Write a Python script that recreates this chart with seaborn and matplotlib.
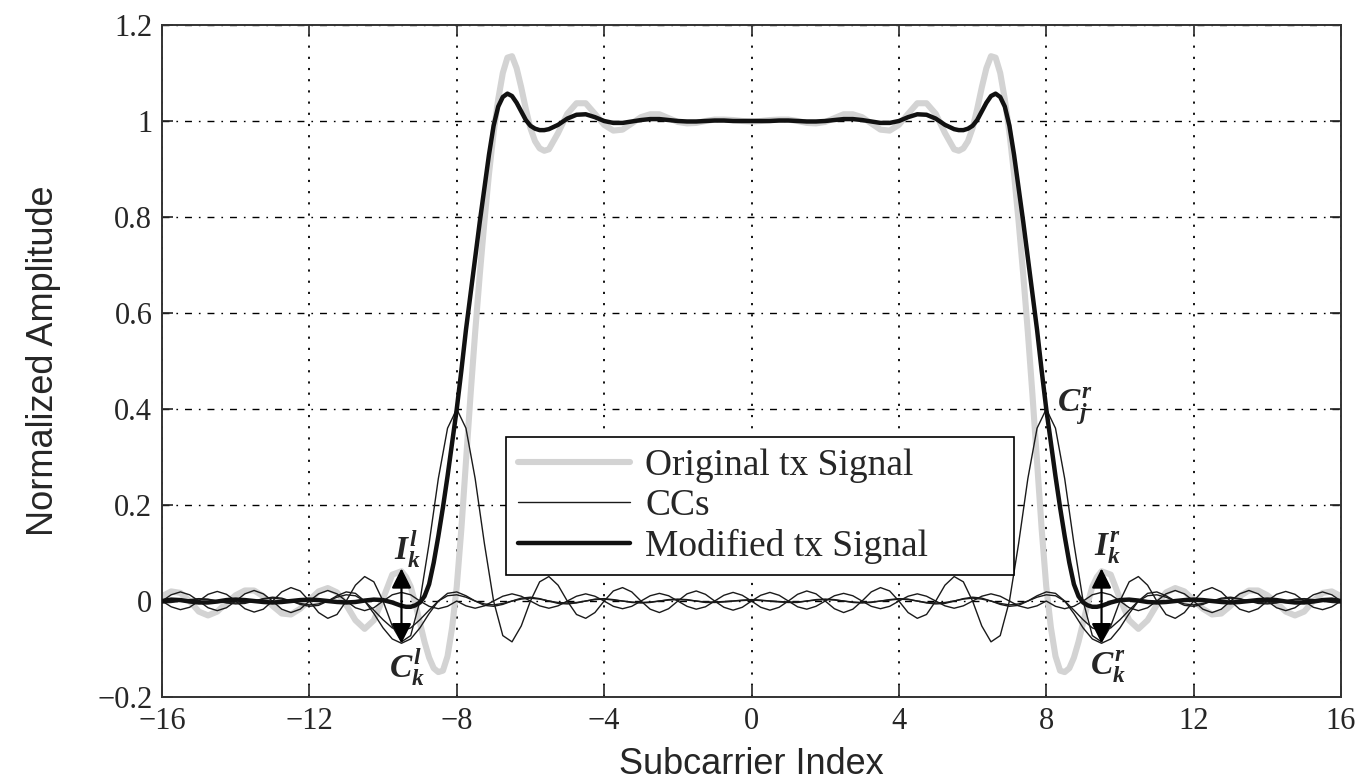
import numpy as np
import pandas as pd
import matplotlib
matplotlib.use("Agg")
import matplotlib.pyplot as plt
import seaborn as sns

# subcarrier grid (step 0.25) used by the cancellation carriers
subcarrier = np.arange(-16, 16.001, 0.25)
# denser grid around the band edges for the tx signals
left_x = np.concatenate([np.arange(-16, -9.74, 0.25), np.arange(-9.5, -5.49, 0.125),
                         np.arange(-5.25, -0.24, 0.25)])
signal_x = np.concatenate([left_x, [0.0], -left_x[::-1]])

original_tx = [
    # -16 .. -9.75
    0.010, 0.020, 0.017, 0.000, -0.022, -0.030, -0.022, -0.004,
    0.012, 0.022, 0.022, 0.010, -0.010, -0.026, -0.028, -0.016,
    0.002, 0.020, 0.027, 0.018, -0.008, -0.040, -0.058, -0.040,
    0.005, 0.055,
    # -9.5 .. -5.5 (step 0.125)
    0.062, 0.050, 0.030, -0.005, -0.045, -0.085, -0.118, -0.140,
    -0.148, -0.145, -0.115, -0.055, 0.030, 0.150, 0.290, 0.430,
    0.560, 0.680, 0.790, 0.890, 0.975, 1.045, 1.100, 1.132,
    1.135, 1.110, 1.070, 1.025, 0.985, 0.958, 0.943, 0.938,
    0.941,
    # -5.25 .. -0.25
    0.975, 1.015, 1.037, 1.037, 1.015, 0.992, 0.980, 0.982,
    0.995, 1.008, 1.014, 1.014, 1.006, 0.998, 0.995, 0.996,
    1.000, 1.003, 1.003, 1.002, 1.000,
    # 0
    0.999,
    # 0.25 .. 5.25
    1.000, 1.002, 1.003, 1.003, 1.000, 0.996, 0.995, 0.998,
    1.006, 1.014, 1.014, 1.008, 0.995, 0.982, 0.980, 0.992,
    1.015, 1.037, 1.037, 1.015, 0.975,
    # 5.5 .. 9.5 (step 0.125)
    0.941, 0.938, 0.943, 0.958, 0.985, 1.025, 1.070, 1.110,
    1.135, 1.132, 1.100, 1.045, 0.975, 0.890, 0.790, 0.680,
    0.560, 0.430, 0.290, 0.150, 0.030, -0.055, -0.115, -0.145,
    -0.148, -0.140, -0.118, -0.085, -0.045, -0.005, 0.030, 0.050,
    0.062,
    # 9.75 .. 16
    0.055, 0.005, -0.040, -0.058, -0.040, -0.008, 0.018, 0.027,
    0.020, 0.002, -0.016, -0.028, -0.026, -0.010, 0.010, 0.022,
    0.022, 0.012, -0.004, -0.022, -0.030, -0.022, 0.000, 0.017,
    0.020, 0.010,
]

modified_tx = [
    # -16 .. -9.75
    0.000, 0.003, 0.002, -0.001, -0.003, -0.003, -0.001, 0.002,
    0.003, 0.002, 0.000, -0.002, -0.003, -0.002, 0.000, 0.002,
    0.003, 0.002, 0.000, -0.002, -0.003, -0.002, 0.001, 0.003,
    0.002, -0.003,
    # -9.5 .. -5.5 (step 0.125)
    -0.010, -0.012, -0.012, -0.009, -0.003, 0.010, 0.035, 0.080,
    0.135, 0.195, 0.260, 0.330, 0.400, 0.480, 0.565, 0.640,
    0.715, 0.790, 0.860, 0.930, 0.990, 1.030, 1.050, 1.057,
    1.052, 1.038, 1.020, 1.002, 0.990, 0.984, 0.981, 0.981,
    0.983,
    # -5.25 .. -0.25
    0.992, 1.005, 1.013, 1.014, 1.008, 1.000, 0.996, 0.996,
    0.999, 1.002, 1.004, 1.004, 1.002, 1.000, 0.999, 0.999,
    1.000, 1.001, 1.001, 1.000, 1.000,
    # 0
    1.000,
    # 0.25 .. 5.25
    1.000, 1.000, 1.001, 1.001, 1.000, 0.999, 0.999, 1.000,
    1.002, 1.004, 1.004, 1.002, 0.999, 0.996, 0.996, 1.000,
    1.008, 1.014, 1.013, 1.005, 0.992,
    # 5.5 .. 9.5 (step 0.125)
    0.983, 0.981, 0.981, 0.984, 0.990, 1.002, 1.020, 1.038,
    1.052, 1.057, 1.050, 1.030, 0.990, 0.930, 0.860, 0.790,
    0.715, 0.640, 0.565, 0.480, 0.400, 0.330, 0.260, 0.195,
    0.135, 0.080, 0.035, 0.010, -0.003, -0.009, -0.012, -0.012,
    -0.010,
    # 9.75 .. 16
    -0.003, 0.002, 0.003, 0.001, -0.002, -0.003, -0.002, 0.000,
    0.002, 0.003, 0.002, 0.000, -0.002, -0.003, -0.002, 0.000,
    0.002, 0.003, 0.002, -0.001, -0.003, -0.003, -0.001, 0.002,
    0.003, 0.000,
]

# cancellation carrier at -8 (C_j^l)
cc_main_l = [
    0.000, -0.012, -0.018, -0.013, 0.000, 0.014, 0.020, 0.014,
    0.000, -0.016, -0.023, -0.017, 0.000, 0.019, 0.028, 0.021,
    0.000, -0.024, -0.036, -0.028, 0.000, 0.033, 0.051, 0.040,
    0.000, -0.052, -0.085, -0.072, 0.000, 0.120, 0.255, 0.360,
    0.400, 0.360, 0.255, 0.120, 0.000, -0.072, -0.085, -0.052,
    0.000, 0.040, 0.051, 0.033, 0.000, -0.028, -0.036, -0.024,
    0.000, 0.021, 0.028, 0.019, 0.000, -0.017, -0.024, -0.016,
    0.000, 0.015, 0.021, 0.014, 0.000, -0.013, -0.019, -0.013,
    0.000, 0.012, 0.018, 0.012, 0.000, -0.012, -0.017, -0.011,
    0.000, 0.011, 0.016, 0.011, 0.000, -0.011, -0.016, -0.011,
    0.000, 0.010, 0.015, 0.010, 0.000, -0.010, -0.015, -0.010,
    0.000, 0.010, 0.015, 0.010, 0.000, -0.010, -0.015, -0.010,
    0.000, -0.011, -0.016, -0.011, 0.000, 0.013, 0.018, 0.013,
    0.000, -0.014, -0.020, -0.014, 0.000, 0.015, 0.022, 0.015,
    0.000, -0.017, -0.024, -0.017, 0.000, 0.015, 0.022, 0.015,
    0.000, -0.014, -0.020, -0.014, 0.000, 0.013, 0.019, 0.013,
    0.000,
]

# cancellation carrier at +8 (C_j^r)
cc_main_r = [
    0.000, 0.013, 0.019, 0.013, 0.000, -0.014, -0.020, -0.014,
    0.000, 0.015, 0.022, 0.015, 0.000, -0.017, -0.024, -0.017,
    0.000, 0.015, 0.022, 0.015, 0.000, -0.014, -0.020, -0.014,
    0.000, 0.013, 0.018, 0.013, 0.000, -0.011, -0.016, -0.011,
    0.000, -0.010, -0.015, -0.010, 0.000, 0.010, 0.015, 0.010,
    0.000, -0.010, -0.015, -0.010, 0.000, 0.010, 0.015, 0.010,
    0.000, -0.011, -0.016, -0.011, 0.000, 0.011, 0.016, 0.011,
    0.000, -0.011, -0.017, -0.012, 0.000, 0.012, 0.018, 0.012,
    0.000,
    -0.013, -0.019, -0.013, 0.000, 0.014, 0.021, 0.015, 0.000,
    -0.016, -0.024, -0.017, 0.000, 0.019, 0.028, 0.021, 0.000,
    -0.024, -0.036, -0.028, 0.000, 0.033, 0.051, 0.040, 0.000,
    -0.052, -0.085, -0.072, 0.000, 0.120, 0.255, 0.360, 0.400,
    0.360, 0.255, 0.120, 0.000, -0.072, -0.085, -0.052, 0.000,
    0.040, 0.051, 0.033, 0.000, -0.028, -0.036, -0.024, 0.000,
    0.021, 0.028, 0.019, 0.000, -0.017, -0.023, -0.016, 0.000,
    0.014, 0.020, 0.014, 0.000, -0.013, -0.018, -0.012, 0.000,
]

# edge cancellation carriers around -9.5 (C_k^l), left half only (x = -16 .. 0)
cc_edge_l1 = [
    -0.004, -0.003, 0.000, 0.003, 0.005, 0.004, 0.000, -0.004,
    -0.006, -0.005, 0.000, 0.005, 0.008, 0.006, 0.000, -0.007,
    -0.011, -0.009, 0.000, 0.011, 0.019, 0.016, 0.000, -0.026,
    -0.056, -0.079, -0.088, -0.079, -0.056, -0.026, 0.000, 0.016,
    0.019, 0.011, 0.000, -0.009, -0.011, -0.007, 0.000, 0.006,
    0.008, 0.005, 0.000, -0.005, -0.006, -0.004, 0.000, 0.004,
    0.005, 0.003, 0.000, -0.003, -0.004, -0.003, 0.000, 0.003,
    0.004, 0.003, 0.000, -0.003, -0.003, -0.002, 0.000, 0.002,
    0.003,
]
cc_edge_l2 = [
    -0.003, -0.002, 0.000, 0.002, 0.004, 0.003, 0.000, -0.003,
    -0.004, -0.003, 0.000, 0.004, 0.006, 0.004, 0.000, -0.005,
    -0.008, -0.006, 0.000, 0.008, 0.013, 0.011, 0.000, -0.019,
    -0.039, -0.056, -0.062, -0.056, -0.039, -0.019, 0.000, 0.011,
    0.013, 0.008, 0.000, -0.006, -0.008, -0.005, 0.000, 0.004,
    0.006, 0.004, 0.000, -0.003, -0.004, -0.003, 0.000, 0.003,
    0.004, 0.002, 0.000, -0.002, -0.003, -0.002, 0.000, 0.002,
    0.003, 0.002, 0.000, -0.002, -0.002, -0.001, 0.000, 0.001,
    0.002,
]
# edge cancellation carriers around +9.5 (C_k^r), right half only (x = 0 .. 16)
cc_edge_r1 = [
    0.003,
    0.002, 0.000, -0.002, -0.003, -0.003, 0.000, 0.003, 0.004,
    0.003, 0.000, -0.003, -0.004, -0.003, 0.000, 0.003, 0.005,
    0.004, 0.000, -0.004, -0.006, -0.005, 0.000, 0.005, 0.008,
    0.006, 0.000, -0.007, -0.011, -0.009, 0.000, 0.011, 0.019,
    0.016, 0.000, -0.026, -0.056, -0.079, -0.088, -0.079, -0.056,
    -0.026, 0.000, 0.016, 0.019, 0.011, 0.000, -0.009, -0.011,
    -0.007, 0.000, 0.006, 0.008, 0.005, 0.000, -0.005, -0.006,
    -0.004, 0.000, 0.004, 0.005, 0.003, 0.000, -0.003, -0.004,
]
cc_edge_r2 = [
    0.002,
    0.001, 0.000, -0.001, -0.002, -0.002, 0.000, 0.002, 0.003,
    0.002, 0.000, -0.002, -0.003, -0.002, 0.000, 0.002, 0.004,
    0.003, 0.000, -0.003, -0.004, -0.003, 0.000, 0.004, 0.006,
    0.004, 0.000, -0.005, -0.008, -0.006, 0.000, 0.008, 0.013,
    0.011, 0.000, -0.019, -0.039, -0.056, -0.062, -0.056, -0.039,
    -0.019, 0.000, 0.011, 0.013, 0.008, 0.000, -0.006, -0.008,
    -0.005, 0.000, 0.004, 0.006, 0.004, 0.000, -0.003, -0.004,
    -0.003, 0.000, 0.003, 0.004, 0.002, 0.000, -0.002, -0.003,
]

x_ticks = [-16, -12, -8, -4, 0, 4, 8, 12, 16]
x_ticklabels = ["\u221216", "\u221212", "\u22128", "\u22124", "0", "4", "8", "12", "16"]
y_ticks = [-0.2, 0, 0.2, 0.4, 0.6, 0.8, 1.0, 1.2]
y_ticklabels = ["\u22120.2", "0", "0.2", "0.4", "0.6", "0.8", "1", "1.2"]

sns.set_style("ticks")
plt.rcParams["font.family"] = ["Liberation Serif", "DejaVu Serif"]
plt.rcParams["mathtext.fontset"] = "custom"
plt.rcParams["mathtext.it"] = "Liberation Serif:italic:bold"
plt.rcParams["mathtext.rm"] = "Liberation Serif:bold"
plt.rcParams["mathtext.bf"] = "Liberation Serif:italic:bold"

fig = plt.figure(figsize=(13.67, 7.81), dpi=100)
ax = fig.add_axes([0.1185, 0.1075, 0.8625, 0.8605])

left_half = subcarrier[subcarrier <= 0]
right_half = subcarrier[subcarrier >= 0]

sns.lineplot(x=signal_x, y=original_tx, ax=ax, color="#d3d3d3", lw=4.4,
             label="Original tx Signal", zorder=2)
sns.lineplot(x=subcarrier, y=cc_main_l, ax=ax, color="#1a1a1a", lw=1.0,
             label="CCs", zorder=3)
for ys, xs in [(cc_main_r, subcarrier), (cc_edge_l1, left_half), (cc_edge_l2, left_half),
               (cc_edge_r1, right_half), (cc_edge_r2, right_half)]:
    sns.lineplot(x=xs, y=ys, ax=ax, color="#1a1a1a", lw=1.0, label="_nolegend_", zorder=3)
sns.lineplot(x=signal_x, y=modified_tx, ax=ax, color="#111111", lw=3.2,
             label="Modified tx Signal", zorder=4)
for ln in ax.get_lines():
    ln.set_solid_joinstyle("round")

ax.set_xlim(-16, 16)
ax.set_ylim(-0.2, 1.2)
ax.set_xticks(x_ticks)
ax.set_xticklabels(x_ticklabels, fontsize=22)
ax.set_yticks(y_ticks)
ax.set_yticklabels(y_ticklabels, fontsize=22)
ax.tick_params(direction="in", length=8, width=1.2, top=True, right=True, pad=7)
for s in ax.spines.values():
    s.set_linewidth(1.4)
    s.set_color("#333333")

ax.xaxis.grid(True, linestyle=(0, (1.2, 5)), color="black", lw=1.3)
ax.yaxis.grid(True, linestyle=(0, (5, 5, 1.2, 5)), color="black", lw=1.0)
ax.set_axisbelow(True)

ax.set_xlabel("Subcarrier Index", fontsize=26, family=["Liberation Sans", "DejaVu Sans"], labelpad=8)
ax.set_ylabel("Normalized Amplitude", fontsize=26, family=["Liberation Sans", "DejaVu Sans"], labelpad=26)

# arrows at the edge subcarriers
arrow_kw = dict(arrowstyle="-|>,head_length=0.8,head_width=0.4", color="black",
                lw=1.6, mutation_scale=15, shrinkA=0, shrinkB=0)
for xe in [-9.5, 9.5]:
    ax.annotate("", xy=(xe, 0.068), xytext=(xe, 0.0), arrowprops=arrow_kw, zorder=6)
    ax.annotate("", xy=(xe, -0.088), xytext=(xe, 0.0), arrowprops=arrow_kw, zorder=6)

ax.text(-9.35, 0.108, r"$I_k^l$", fontsize=24, ha="center", va="center", zorder=7)
ax.text(-9.35, -0.138, r"$C_k^l$", fontsize=24, ha="center", va="center", zorder=7)
ax.text(9.65, 0.110, r"$I_k^r$", fontsize=24, ha="center", va="center", zorder=7)
ax.text(9.68, -0.138, r"$C_k^r$", fontsize=24, ha="center", va="center", zorder=7)
ax.text(8.78, 0.405, r"$C_j^r$", fontsize=24, ha="center", va="center", zorder=7)

leg = ax.legend(loc="lower left", bbox_to_anchor=(0.292, 0.1815, 0.431, 0.2055), mode="expand",
                fontsize=27, frameon=True, fancybox=False, framealpha=1, edgecolor="black",
                borderpad=0.3, handlelength=3.0, handletextpad=0.4, labelspacing=0.15,
                borderaxespad=0)
leg.get_frame().set_linewidth(1.2)

fig.savefig("out.png", dpi=100)
